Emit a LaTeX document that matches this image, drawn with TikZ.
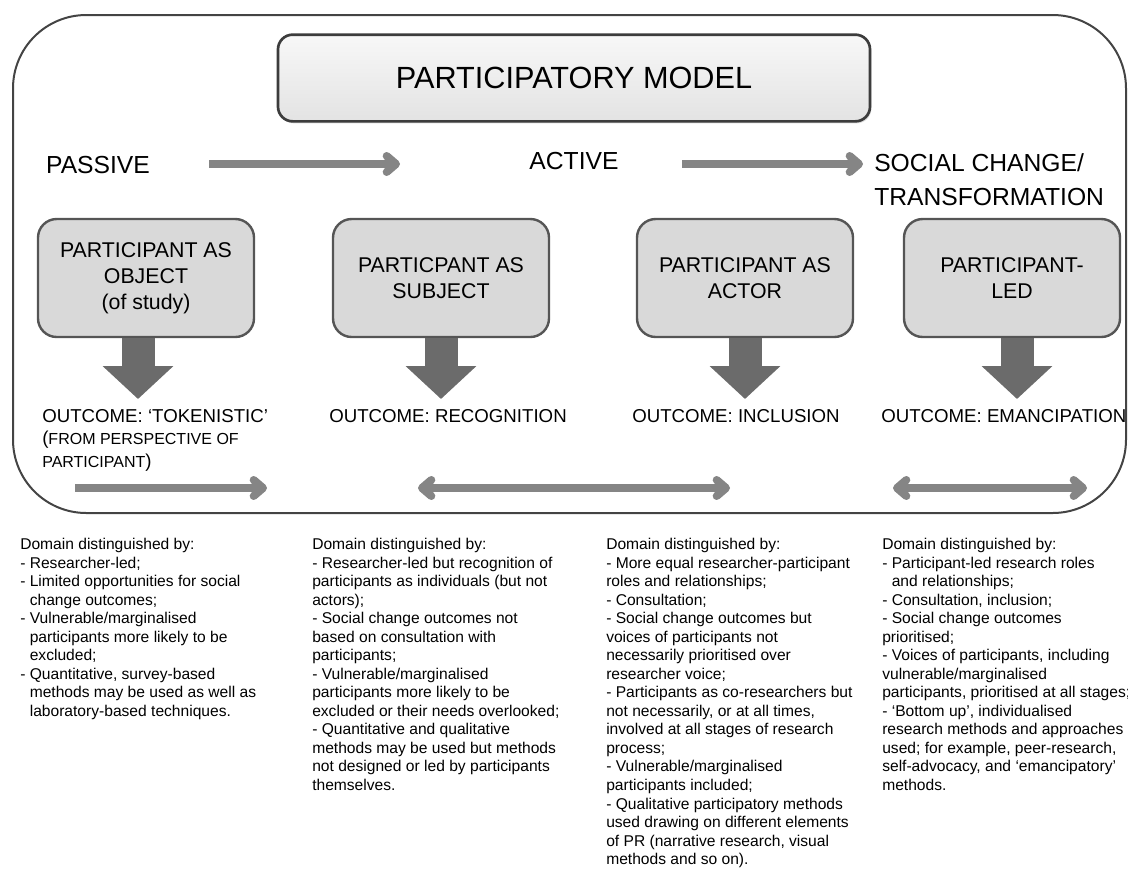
\documentclass[tikz,border=0pt]{standalone}
\usepackage{fontspec}
\setmainfont{Liberation Sans}
\usepackage{tikz}
\usetikzlibrary{positioning,calc,arrows.meta,shadows}
\definecolor{boxgrey}{HTML}{D9D9D9}
\definecolor{edgegrey}{HTML}{555555}
\definecolor{arrowgrey}{HTML}{858585}
\definecolor{blockgrey}{HTML}{6B6B6B}
\newcommand{\capsmall}[1]{{\fontsize{12}{17}\selectfont #1}}

\begin{document}
\begin{tikzpicture}[x=0.75pt,y=-0.75pt,
	frame/.style={draw=edgegrey!80!black, line width=1.5pt, rounded corners=55pt},
	titlebox/.style={draw=edgegrey!70!black, line width=2pt, rounded corners=11pt, top color=gray!6, bottom color=gray!22, minimum width=444pt, minimum height=65pt, font=\fontsize{23}{27}\selectfont, drop shadow={opacity=0.3, shadow xshift=1pt, shadow yshift=-1.5pt}},
	stage/.style={inner sep=0pt, font=\fontsize{18.5}{25.5}\selectfont},
	rolebox/.style={draw=edgegrey, fill=boxgrey, line width=1.8pt, rounded corners=14pt, minimum width=162pt, minimum height=88.5pt, align=center, font=\fontsize{16}{19.5}\selectfont},
	outcome/.style={anchor=north west, inner sep=0pt, align=left, font=\fontsize{14}{17}\selectfont},
	domaintext/.style={anchor=north west, inner sep=0pt, align=left, font=\fontsize{11.7}{13.9}\selectfont},
	greyarrow/.style={draw=arrowgrey, line width=6pt, -{Straight Barb[length=7pt,width=12pt,round]}},
	twoway/.style={draw=arrowgrey, line width=6pt, {Straight Barb[length=7pt,width=12pt,round]}-{Straight Barb[length=7pt,width=12pt,round]}},
	blockarrow/.style={draw=blockgrey, line width=24.75pt, -{Triangle[length=24.75pt,width=51.75pt]}, shorten >=7.5pt}
	]
				\useasboundingbox (0,0) rectangle (1128,872);
				%%%frame
				\draw[frame] (13,15) rectangle (1126,513);
				%%%nodes
				%title
				\node[titlebox] at (574,78) (model){PARTICIPATORY MODEL};
				%stages
				\node[stage] at (98,165) (passive){PASSIVE};
				\node[stage] at (574,161) (active){ACTIVE};
				\node[stage, anchor=west, align=left] at (874,180) (social){SOCIAL CHANGE/\\TRANSFORMATION};
				%roles
				\node[rolebox] at (146,278) (object){PARTICIPANT AS\\OBJECT\\(of study)};
				\node[rolebox] at (441,278) (subject){PARTICPANT AS\\SUBJECT};
				\node[rolebox] at (745,278) (actor){PARTICIPANT AS\\ACTOR};
				\node[rolebox] at (1012,278) (led){PARTICIPANT-\\LED};
				%outcomes
				\node[outcome] at (42,409) (tokenistic){OUTCOME: ‘TOKENISTIC’\\(\capsmall{FROM PERSPECTIVE OF}\\\capsmall{PARTICIPANT})};
				\node[outcome] at (329,409) (recognition){OUTCOME: RECOGNITION};
				\node[outcome] at (632,409) (inclusion){OUTCOME: INCLUSION};
				\node[outcome] at (881,409) (emancipation){OUTCOME: EMANCIPATION};
				%domains
				\node[domaintext] at (20,538) (domobject){Domain distinguished by:\\
					- Researcher-led;\\
					- Limited opportunities for social\\
					\hphantom{- }change outcomes;\\
					- Vulnerable/marginalised\\
					\hphantom{- }participants more likely to be\\
					\hphantom{- }excluded;\\
					- Quantitative, survey-based\\
					\hphantom{- }methods may be used as well as\\
					\hphantom{- }laboratory-based techniques.};
				\node[domaintext] at (312,538) (domsubject){Domain distinguished by:\\
					- Researcher-led but recognition of\\
					participants as individuals (but not\\
					actors);\\
					- Social change outcomes not\\
					based on consultation with\\
					participants;\\
					- Vulnerable/marginalised\\
					participants more likely to be\\
					excluded or their needs overlooked;\\
					- Quantitative and qualitative\\
					methods may be used but methods\\
					not designed or led by participants\\
					themselves.};
				\node[domaintext] at (606,538) (domactor){Domain distinguished by:\\
					- More equal researcher-participant\\
					roles and relationships;\\
					- Consultation;\\
					- Social change outcomes but\\
					voices of participants not\\
					necessarily prioritised over\\
					researcher voice;\\
					- Participants as co-researchers but\\
					not necessarily, or at all times,\\
					involved at all stages of research\\
					process;\\
					- Vulnerable/marginalised\\
					participants included;\\
					- Qualitative participatory methods\\
					used drawing on different elements\\
					of PR (narrative research, visual\\
					methods and so on).};
				\node[domaintext] at (882,538) (domled){Domain distinguished by:\\
					- Participant-led research roles\\
					\hphantom{- }and relationships;\\
					- Consultation, inclusion;\\
					- Social change outcomes\\
					prioritised;\\
					- Voices of participants, including\\
					vulnerable/marginalised\\
					participants, prioritised at all stages;\\
					- ‘Bottom up’, individualised\\
					research methods and approaches\\
					used; for example, peer-research,\\
					self-advocacy, and ‘emancipatory’\\
					methods.};
				%arrow ends
				\coordinate (s1a) at (209,164);
				\coordinate (s1b) at (400,164);
				\coordinate (s2a) at (682,164);
				\coordinate (s2b) at (863,164);
				\coordinate (d1a) at (75,488);
				\coordinate (d1b) at (267,488);
				\coordinate (d2a) at (418,488);
				\coordinate (d2b) at (730,488);
				\coordinate (d3a) at (893,488);
				\coordinate (d3b) at (1087,488);
				%%%links
				%stages
				\draw[greyarrow] (s1a) -- (s1b);
				\draw[greyarrow] (s2a) -- (s2b);
				%roles to outcomes
				\draw[blockarrow] ($(object.south)+(-8,0)$) -- ($(object.south |- tokenistic.north)+(-8,0)$);
				\draw[blockarrow] (subject.south) -- (subject.south |- recognition.north);
				\draw[blockarrow] (actor.south) -- (actor.south |- inclusion.north);
				\draw[blockarrow] ($(led.south)+(5,0)$) -- ($(led.south |- emancipation.north)+(5,0)$);
				%domains
				\draw[greyarrow] (d1a) -- (d1b);
				\draw[twoway] (d2a) -- (d2b);
				\draw[twoway] (d3a) -- (d3b);
			\end{tikzpicture}
\end{document}
